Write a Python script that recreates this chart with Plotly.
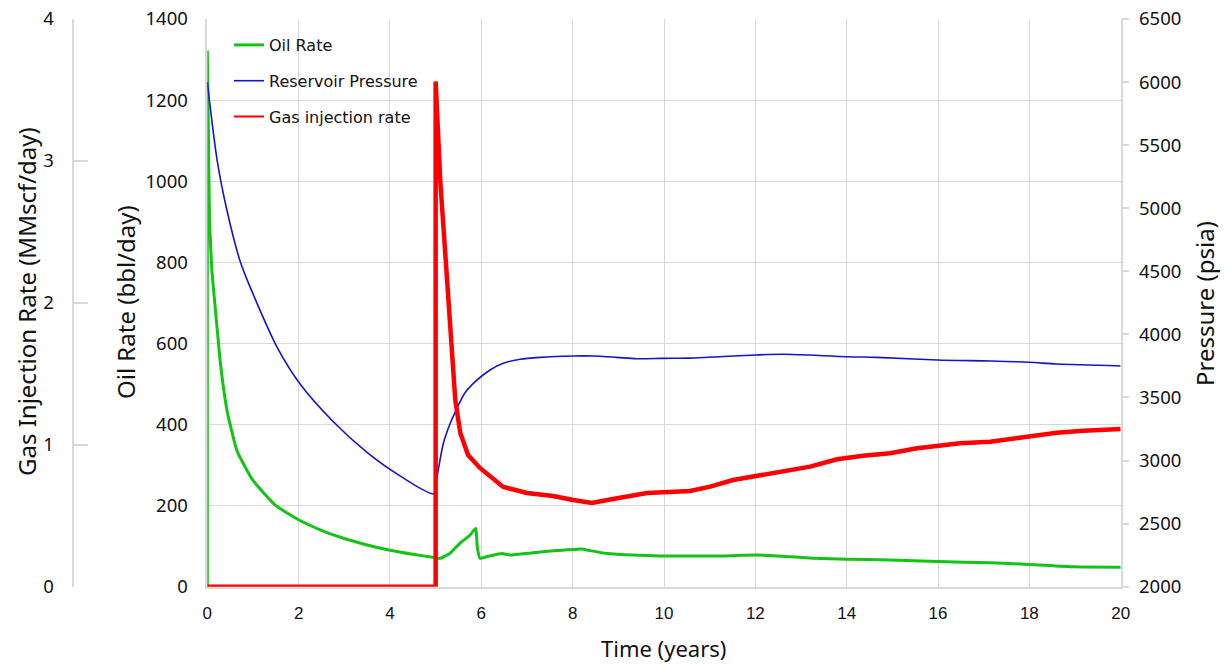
import plotly.graph_objects as go

# ---------------- data ----------------
t_oil = [0, 0, 0.02, 0.05, 0.10, 0.18, 0.29, 0.44, 0.65, 1.0, 1.5, 2.0, 2.5, 3.0, 3.5, 4.0, 4.5, 4.97,
         5.10, 5.31, 5.53, 5.75, 5.88, 5.91, 5.97, 6.19, 6.45, 6.63, 7.14, 7.65, 8.20, 8.38, 8.75, 9.33,
         9.91, 10.57, 11.30, 12.01, 12.47, 13.27, 14.0, 14.95, 15.99, 17.14, 18.0, 18.96, 20.0]
oil_rate = [0, 1322, 1150, 900, 780, 680, 548, 430, 335, 262, 200, 165, 139, 119, 103, 90, 80, 72,
            70, 82, 107, 127, 144, 99, 70, 76, 82, 78, 84, 89, 93, 89, 82, 78,
            76, 76, 76, 78, 76, 70, 68, 66, 62, 59, 55, 49, 48]

t_pres = [0, 0.22, 0.44, 0.73, 1.09, 1.53, 2.04, 2.76, 3.49, 4.22, 4.97, 5.02, 5.17, 5.32, 5.50, 5.64,
          5.86, 6.19, 6.48, 6.85, 7.28, 8.01, 8.45, 8.96, 9.40, 9.98, 10.57, 11.30, 12.01, 12.61, 14.0,
          14.66, 15.99, 17.14, 18.0, 18.6, 20.0]
pressure = [6000, 5370, 4968, 4567, 4245, 3897, 3602, 3307, 3066, 2878, 2737, 2846, 3137, 3295, 3440, 3535,
            3623, 3718, 3771, 3803, 3818, 3829, 3829, 3818, 3807, 3810, 3812, 3825, 3837, 3842, 3823,
            3818, 3797, 3789, 3779, 3765, 3750]

t_gas = [0, 5.0, 5.0, 5.10, 5.21, 5.30, 5.43, 5.54, 5.71, 5.97, 6.48, 7.0, 7.57, 8.01, 8.42, 8.88, 9.63,
         10.57, 11.01, 11.51, 12.01, 12.69, 13.2, 13.79, 14.36, 14.95, 15.54, 15.97, 16.48, 17.14, 17.58,
         18.01, 18.6, 19.18, 20.0]
gas_rate = [0, 0, 3.56, 2.865, 2.351, 1.879, 1.315, 1.083, 0.928, 0.837, 0.703, 0.660, 0.639, 0.611, 0.590,
            0.618, 0.660, 0.674, 0.705, 0.752, 0.780, 0.810, 0.846, 0.898, 0.923, 0.940, 0.975, 0.991,
            1.010, 1.022, 1.039, 1.057, 1.085, 1.099, 1.111]

names = ["Oil Rate", "Reservoir Pressure", "Gas injection rate"]
GREEN = "#14c414"
BLUE = "#1414cc"
RED = "#ff0000"
GRID = "#d9d9d9"

W, H = 1225, 664
def px(x):
    return x / W
def py(y):
    return 1 - y / H

fig = go.Figure()
fig.add_trace(go.Scatter(x=t_oil, y=oil_rate, mode="lines",
                         line=dict(color=GREEN, width=3, shape="spline", smoothing=0.4),
                         yaxis="y", showlegend=False))
fig.add_trace(go.Scatter(x=t_pres, y=pressure, mode="lines",
                         line=dict(color=BLUE, width=1.6, shape="spline", smoothing=0.8),
                         yaxis="y2", showlegend=False))
fig.add_trace(go.Scatter(x=t_gas, y=gas_rate, mode="lines", line=dict(color=RED, width=4.5),
                         yaxis="y3", showlegend=False))
# empty trace so the pressure label axis is drawn
fig.add_trace(go.Scatter(x=[None], y=[None], mode="lines", yaxis="y4", showlegend=False,
                         hoverinfo="skip"))
# legend entries
for nm, col, w in zip(names, [GREEN, BLUE, RED], [3, 1.6, 2]):
    fig.add_trace(go.Scatter(x=[None], y=[None], mode="lines", name=nm, line=dict(color=col, width=w),
                             legendgroup=nm))

tick_font = dict(family="Noto Sans, Open Sans, sans-serif", size=18.5, color="#111111")
x_font = dict(family="Liberation Sans, sans-serif", size=17, color="#111111")
title_font = dict(family="Noto Sans, sans-serif", size=24, color="#111111")

fig.update_layout(
    width=W, height=H,
    margin=dict(l=0, r=0, t=0, b=0, autoexpand=False),
    paper_bgcolor="white", plot_bgcolor="white",
    xaxis=dict(domain=[px(207.3), px(1120.7)], range=[0, 20], dtick=2, tick0=0,
               showgrid=True, gridcolor=GRID, gridwidth=1, zeroline=False,
               showline=True, linecolor=GRID, linewidth=1.5, ticks="",
               tickfont=x_font, ticklabelstandoff=10, anchor="y"),
    yaxis=dict(domain=[py(586.7), py(19)], range=[0, 1400], dtick=200, tick0=0,
               showgrid=True, gridcolor=GRID, gridwidth=1, zeroline=False,
               showline=True, linecolor=GRID, linewidth=1.5, ticks="",
               tickfont=tick_font, ticklabelstandoff=14, anchor="x"),
    yaxis2=dict(range=[2000, 6500], dtick=500, tick0=2000, overlaying="y", side="right", anchor="x",
                showgrid=False, zeroline=False, showline=True, linecolor=GRID, linewidth=1.5,
                ticks="outside", ticklen=7, tickcolor=GRID, tickwidth=1.5,
                showticklabels=False),
    yaxis4=dict(range=[2000, 6500], dtick=500, tick0=2000, overlaying="y", side="right", anchor="free",
                position=px(1138), showgrid=False, zeroline=False, showline=False, ticks="",
                tickfont=tick_font),
    yaxis3=dict(range=[0, 4], dtick=1, tick0=0, overlaying="y", side="left", anchor="free",
                position=px(73.3), showgrid=False, zeroline=False, showline=True, linecolor=GRID,
                linewidth=1.5, ticks="inside", ticklen=14, tickcolor=GRID, tickwidth=1.5,
                tickfont=tick_font, ticklabelstandoff=15),
    legend=dict(x=px(229), y=py(28), xanchor="left", yanchor="top", bgcolor="rgba(0,0,0,0)",
                font=dict(family="DejaVu Sans, sans-serif", size=16, color="#111111"),
                tracegroupgap=12, traceorder="grouped"),
    annotations=[
        dict(text="Gas Injection Rate (MMscf/day)", x=px(26), y=py(302), xref="paper", yref="paper",
             xanchor="center", yanchor="middle", textangle=-90, showarrow=False, font=title_font),
        dict(text="Oil Rate (bbl/day)", x=px(125), y=py(302), xref="paper", yref="paper",
             xanchor="center", yanchor="middle", textangle=-90, showarrow=False, font=title_font),
        dict(text="Pressure (psia)", x=px(1205), y=py(304), xref="paper", yref="paper",
             xanchor="center", yanchor="middle", textangle=-90, showarrow=False, font=title_font),
        dict(text="Time (years)", x=px(663), y=py(648), xref="paper", yref="paper",
             xanchor="center", yanchor="middle", showarrow=False,
             font=dict(family="Noto Sans, sans-serif", size=22, color="#111111")),
    ],
)

fig.write_html("out.html")
